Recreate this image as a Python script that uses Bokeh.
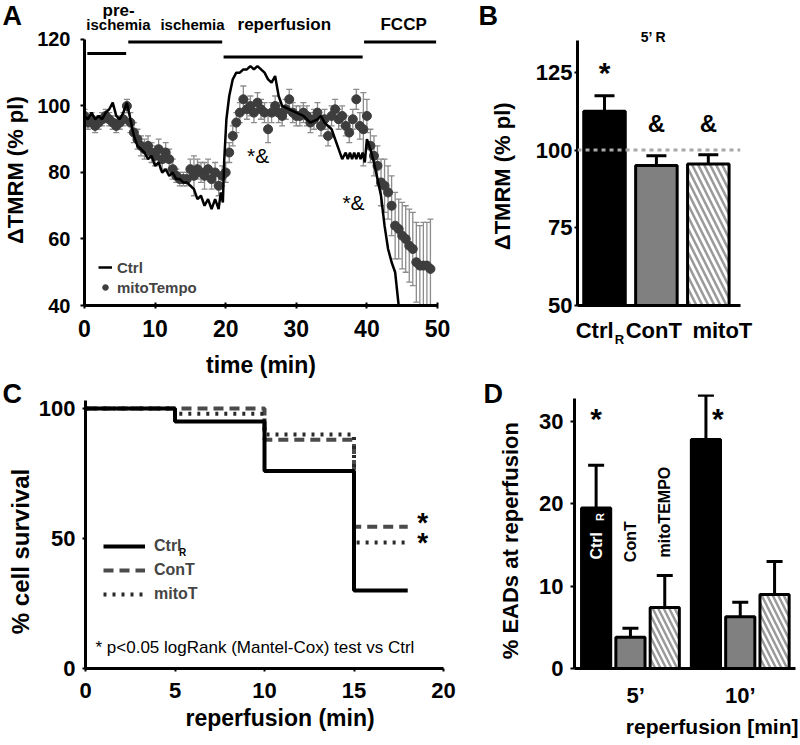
from math import pi
from bokeh.plotting import figure
from bokeh.models import (ColumnDataSource, Range1d, FixedTicker, Label, Legend, LegendItem,
                          Span, Whisker, TeeHead, LinearAxis, Title)
from bokeh.layouts import column, row
from bokeh.embed import file_html
from bokeh.resources import INLINE
from bokeh.core.properties import value

FONT = "Liberation Sans"
NB = "\u00a0"

# ---------------- Panel A data: TMRM time course ----------------
a_mito_time = [0, 0.5, 1, 1.5, 2, 2.5, 3, 3.5, 4, 4.5, 5, 5.5, 6,
               6.5, 7, 7.5, 8, 8.5, 9, 9.5, 10, 10.5, 11, 11.5, 12,
               12.5, 13, 13.5, 14, 14.5, 15, 15.5, 16, 16.5, 17, 17.5, 18, 18.5, 19, 19.5, 20,
               20.5, 21, 21.5, 22, 22.5, 23, 23.5, 24, 24.5, 25, 25.5, 26, 26.5, 27, 27.5, 28,
               28.5, 29, 29.5, 30,
               30.5, 31, 31.5, 32, 32.5, 33, 33.5, 34, 34.5, 35, 35.5, 36, 36.5, 37, 37.5, 38,
               38.5, 39, 39.5, 40,
               40.5, 41, 41.5, 42, 42.5, 43, 43.5, 44, 44.5, 45, 45.5, 46, 46.5, 47, 47.5, 48,
               48.5, 49]
a_mito_mean = [97, 95, 96, 94, 95, 96, 97, 96, 95, 94, 95, 96, 100,
               95, 92, 90, 88, 87, 88, 86, 85, 87, 84, 86, 84,
               81, 79, 78, 78, 78, 81, 79, 81, 80, 79, 81, 78, 80, 76, 79, 80,
               86, 91, 95, 98, 102, 99, 100, 98, 101, 99, 98, 93, 98, 100, 98, 97, 99, 102, 98, 97,
               97, 98, 97, 95, 96, 98, 94, 96, 91, 97, 99, 96, 97, 94, 92, 96, 102, 94, 93, 97,
               88, 85, 82, 77, 76, 74, 70, 64, 63, 61, 60, 58, 57, 53, 52, 52, 52, 51]
a_mito_sem = [2, 2, 2, 2, 2, 2, 2, 2, 2, 2, 2, 2, 2,
              3, 3, 3, 3, 3, 3, 3, 3, 3, 3, 3, 3,
              3, 2, 2, 2, 2, 3, 6, 3, 3, 4, 3, 3, 3, 3, 3, 3,
              3, 3, 3, 3, 4, 3, 3, 3, 3, 3, 3, 4, 3, 3, 3, 3, 3, 3, 3, 3,
              3, 3, 3, 3, 3, 3, 3, 3, 3, 3, 3, 3, 3, 3, 3, 3, 3, 4, 11, 5,
              5, 6, 6, 7, 8, 8, 9, 10, 9, 10, 10, 11, 11, 12, 12, 13, 13, 15]
a_ctrl_time = [0, 0.5, 1, 1.5, 2, 2.5, 3, 3.5, 4, 4.5, 5, 5.5, 6, 6.5, 7, 7.5, 8, 8.5, 9, 9.5,
               10, 10.5, 11, 11.5, 12, 12.5, 13, 13.5, 14, 14.5, 15, 15.5, 16, 16.5, 17, 17.5,
               18, 18.5, 19, 19.3, 19.6, 19.8, 20.1, 20.5, 21, 21.5, 22, 22.5, 23, 23.5, 24,
               24.5, 25, 25.5, 26, 26.5, 27, 27.5, 28, 29, 30, 31, 32, 33, 33.5, 34, 35, 35.5,
               36, 36.5, 37, 37.3, 37.6, 37.9, 38.2, 38.5, 38.8, 39.1, 39.4, 39.7, 40, 40.5,
               41, 41.5, 42, 42.5, 43, 43.5, 44, 44.5, 44.8]
a_ctrl_mean = [97, 96, 98, 96, 97, 96, 98, 99, 101, 97, 96, 98, 101, 96, 91, 88, 87, 86, 84, 85,
               82, 83, 80, 81, 79, 80, 78, 78, 77, 77, 76, 75, 72, 73, 70, 72,
               69, 72, 69, 74, 71, 84, 96, 103, 108, 110, 110, 111, 111, 112, 111,
               112, 111, 110, 108, 107, 109, 103, 100, 99, 98, 97, 95, 96, 97, 95, 93, 90,
               87, 84, 86, 84, 86, 84, 86, 84, 86, 84, 86, 83, 90, 87,
               83, 78, 73, 64, 57, 53, 50, 40, 36]
a_xticks = [0, 10, 20, 30, 40, 50]
a_yticks = [40, 60, 80, 100, 120]
a_phase_names = ["ischemia", "ischemia", "reperfusion", "FCCP"]
a_phase_start = [0.4, 6.2, 19.7, 39.6]
a_phase_end = [5.9, 19.5, 39.4, 49.8]
a_phase_bar_level = [115.8, 119.2, 114.7, 119.2]
a_phase_label_time = [4.8, 15.3, 28.3, 45.2]
a_phase_label_level = [124.5, 124.5, 124.5, 124.5]
a_phase_label_size = ["15px", "15px", "17px", "17px"]
a_sig_time = [24.6, 38.1]
a_sig_level = [85.0, 71.0]
a_sig_text = ["*&", "*&"]

# ---------------- Panel B data: TMRM at 5' reperfusion ----------------
b_groups = ["Ctrl", "ConT", "mitoT"]
b_pos = [1, 2, 3]
b_mean = [112.5, 95.0, 95.5]
b_sem = [5.0, 3.2, 3.0]
b_sig = ["*", "&", "&"]
b_sig_level = [125.0, 108.6, 108.6]
b_ref = 100
b_yticks = [50, 75, 100, 125]
b_label_pos = [0.81, 1.95, 3.27]
b_sub_pos = [1.29]

# ---------------- Panel C data: survival ----------------
c_time = [0, 5, 10, 15, 18]
c_ctrl = [100, 95, 76, 30, 30]
c_cont = [100, 100, 88, 54.5, 54.5]
c_mito = [100, 98, 90, 48.5, 48.5]
c_star_time = [18.83, 18.83]
c_star_level = [56.0, 48.5]
c_xticks = [0, 5, 10, 15, 20]
c_yticks = [0, 50, 100]

# ---------------- Panel D data: EADs ----------------
d_groups = ["5\u2019", "10\u2019"]
d_ctrl = [19.5, 27.8]
d_ctrl_err = [5.2, 5.4]
d_cont = [3.8, 6.3]
d_cont_err = [1.1, 1.75]
d_mito = [7.4, 9.0]
d_mito_err = [3.9, 4.0]
d_yticks = [0, 10, 20, 30]
d_group_pos = [0.0, 3.2]
d_label_pos = [0.15, 3.2]


# ---------------- helpers ----------------
def make_fig(w, h, xr, yr, l, r, t, b):
    p = figure(width=w, height=h, x_range=Range1d(*xr), y_range=Range1d(*yr),
               output_backend="svg", toolbar_location=None,
               min_border_left=l, min_border_right=r, min_border_top=t, min_border_bottom=b)
    p.outline_line_color = None
    p.xgrid.visible = False
    p.ygrid.visible = False
    return p


def add_title(p, text, size, offset, standoff, valign, place="above", align="left"):
    p.add_layout(Title(text=text, align=align, offset=offset, standoff=standoff,
                       vertical_align=valign, text_font=FONT, text_font_size=f"{size}px",
                       text_font_style="bold", text_color="black"), place)


def style_axis(ax, ticks, size, tick_in=0, tick_out=4, standoff=6, bounds=None):
    ax.ticker = FixedTicker(ticks=ticks)
    if bounds is not None:
        ax.bounds = bounds
    ax.axis_line_width = 3
    ax.axis_line_color = "black"
    ax.major_tick_line_width = 2
    ax.major_tick_in = tick_in
    ax.major_tick_out = tick_out
    ax.minor_tick_line_color = None
    ax.major_label_standoff = standoff
    ax.major_label_text_font = FONT
    ax.major_label_text_font_style = "bold"
    ax.major_label_text_font_size = f"{size}px"
    ax.major_label_text_color = "black"


def axis_title(ax, text, size, standoff):
    ax.axis_label = text
    ax.axis_label_text_font = FONT
    ax.axis_label_text_font_style = "bold"
    ax.axis_label_text_font_size = f"{size}px"
    ax.axis_label_text_color = "black"
    ax.axis_label_standoff = standoff


def lab(p, x, y, text, size, bold=True, align="center", baseline="middle", angle=0,
        color="black", xu="canvas", yu="canvas", x_offset=0):
    p.add_layout(Label(x=x, y=y, x_units=xu, y_units=yu, text=text, text_font=FONT,
                       text_font_size=f"{size}px",
                       text_font_style="bold" if bold else "normal",
                       text_align=align, text_baseline=baseline, angle=angle,
                       text_color=color, x_offset=x_offset))


def gtext(p, x, y, text, size, bold=True, angle=0, color="black", baseline="middle",
          x_offset=0):
    p.text(x=x, y=y, text=text, angle=angle, x_offset=x_offset, text_font=value(FONT),
           text_font_style="bold" if bold else "normal", text_font_size=size,
           text_color=color, text_align="center", text_baseline=baseline)


# ================= Panel A =================
pA = make_fig(468, 380, (0, 50), (40, 126.9), 84, 31, 16, 74)
add_title(pA, "A", 27, -82, -29, "bottom")
add_title(pA, "pre-", 17, 18, -16, "top")
style_axis(pA.xaxis[0], a_xticks, 23, tick_in=3, tick_out=3, standoff=11)
style_axis(pA.yaxis[0], a_yticks, 20, tick_out=4, standoff=10, bounds=(40, 120))
axis_title(pA.yaxis[0], "\u0394TMRM (% pl)" + NB * 3, 22, 6)
axis_title(pA.xaxis[0], "time (min)", 23, 12)

srcA = ColumnDataSource(dict(t=a_mito_time, m=a_mito_mean,
                             lo=[m - s for m, s in zip(a_mito_mean, a_mito_sem)],
                             hi=[m + s for m, s in zip(a_mito_mean, a_mito_sem)]))
pA.add_layout(Whisker(source=srcA, base="t", lower="lo", upper="hi",
                      line_color="#8c8c8c", line_width=1.3,
                      upper_head=TeeHead(size=6, line_color="#8c8c8c", line_width=1.3),
                      lower_head=TeeHead(size=6, line_color="#8c8c8c", line_width=1.3)))
rA_mito = pA.scatter("t", "m", source=srcA, size=9, marker="circle",
                     fill_color="#3d3d3d", line_color="#3d3d3d")
rA_ctrl = pA.line(a_ctrl_time, a_ctrl_mean, line_color="black", line_width=2.5)

pA.segment(x0=a_phase_start, x1=a_phase_end, y0=a_phase_bar_level, y1=a_phase_bar_level,
           line_color="black", line_width=3)
srcPh = ColumnDataSource(dict(x=a_phase_label_time, y=a_phase_label_level, t=a_phase_names,
                              fs=a_phase_label_size))
pA.text(x="x", y="y", text="t", source=srcPh, text_font=value(FONT), text_font_style="bold",
        text_font_size="fs", text_align="center", text_baseline="middle")
gtext(pA, a_sig_time, a_sig_level, a_sig_text, "21px", bold=False)

legA = Legend(items=[LegendItem(label="Ctrl", renderers=[rA_ctrl]),
                     LegendItem(label="mitoTempo", renderers=[rA_mito])],
              location=(14, 8), glyph_width=14, glyph_height=20, label_height=20,
              spacing=0, label_standoff=5, padding=0, margin=0,
              border_line_alpha=0, background_fill_alpha=0,
              label_text_font=FONT, label_text_font_style="bold",
              label_text_font_size="15px")
pA.add_layout(legA)

# ================= Panel B =================
pB = make_fig(332, 380, (0.48, 3.62), (50, 142.95), 109, 60, 16, 74)
add_title(pB, "B", 27, -99, -29, "bottom")
style_axis(pB.xaxis[0], b_label_pos, 22, tick_out=0, standoff=12)
pB.xaxis[0].major_tick_line_color = None
pB.xaxis[0].major_label_overrides = {b_label_pos[i]: b_groups[i] for i in range(3)}
style_axis(pB.yaxis[0], b_yticks, 22, tick_out=3, standoff=2, bounds=(50, 135.3))
axis_title(pB.yaxis[0], "\u0394TMRM (% pl)" + NB * 5, 22, 18)

axR = LinearAxis(ticker=FixedTicker(ticks=b_sub_pos), major_label_overrides={b_sub_pos[0]: "R"},
                 axis_line_color=None, major_tick_line_color=None, minor_tick_line_color=None,
                 major_label_standoff=-20, major_label_text_font=FONT,
                 major_label_text_font_style="bold", major_label_text_font_size="13px",
                 major_label_text_color="black")
pB.add_layout(axR, "below")

srcB = ColumnDataSource(dict(x=b_pos, top=b_mean,
                             up=[m + s for m, s in zip(b_mean, b_sem)],
                             fill=["black", "#808080", "white"],
                             hatch=[" ", " ", "\\"],
                             sig=b_sig, sigy=b_sig_level,
                             fs=["30px", "24px", "24px"]))
pB.add_layout(Whisker(source=srcB, base="x", lower="top", upper="up", line_color="black",
                      line_width=3, upper_head=TeeHead(size=20, line_color="black", line_width=3),
                      lower_head=None))
pB.vbar(x="x", top="top", bottom=50, width=0.8, source=srcB, fill_color="fill",
        line_color="black", line_width=3, hatch_pattern="hatch", hatch_color="#9a9a9a",
        hatch_weight=2.5, hatch_scale=12)
pB.text(x="x", y="sigy", text="sig", source=srcB, text_font=value(FONT),
        text_font_style="bold", text_font_size="fs", text_align="center",
        text_baseline="middle")
pB.add_layout(Span(location=b_ref, dimension="width", line_color="#a8a8a8",
                   line_width=3, line_dash="4 4"))
gtext(pB, [1.944], [136.2], ["5\u2019 R"], "14px")

# ================= Panel C =================
pC = make_fig(480, 365, (0, 21.06), (0, 105.4), 85, 18, 14, 77)
add_title(pC, "C", 27, -83, -29, "bottom")
style_axis(pC.xaxis[0], c_xticks, 22, tick_out=3, standoff=11, bounds=(0, 20))
style_axis(pC.yaxis[0], c_yticks, 22, tick_out=3, standoff=7, bounds=(0, 103))
axis_title(pC.yaxis[0], "% cell survival" + NB * 6, 24, 2)
add_title(pC, "reperfusion (min)", 23, 100, 5, "bottom", place="below")

rC_cont = pC.step(c_time, c_cont, mode="after", line_color="#4a4a4a", line_width=4,
                  line_dash="10 6")
rC_mito = pC.step(c_time, c_mito, mode="after", line_color="#2a2a2a", line_width=4,
                  line_dash="3 6")
rC_ctrl = pC.step(c_time, c_ctrl, mode="after", line_color="black", line_width=4)
gtext(pC, c_star_time, c_star_level, ["*", "*"], "28px")

legC = Legend(items=[LegendItem(label="Ctrl", renderers=[rC_ctrl]),
                     LegendItem(label="ConT", renderers=[rC_cont]),
                     LegendItem(label="mitoT", renderers=[rC_mito])],
              location=(18, 64), glyph_width=42, glyph_height=20, label_height=20,
              spacing=4, label_standoff=9, padding=0, margin=0,
              border_line_alpha=0, background_fill_alpha=0,
              label_text_font=FONT, label_text_font_style="bold",
              label_text_font_size="16px")
pC.add_layout(legC)
lab(pC, 182, 172, "R", 10)
lab(pC, 95, 267, "* p<0.05 logRank (Mantel-Cox) test vs Ctrl", 17, bold=False, align="left")

# ================= Panel D =================
pD = make_fig(320, 365, (-1.63, 4.81), (0, 33.28), 94, 5, 14, 77)
add_title(pD, "D", 27, -91, -29, "bottom")
style_axis(pD.xaxis[0], d_label_pos, 22, tick_out=0, standoff=14)
pD.xaxis[0].major_tick_line_color = None
pD.xaxis[0].major_label_overrides = {d_label_pos[i]: d_groups[i] for i in range(2)}
style_axis(pD.yaxis[0], d_yticks, 22, tick_out=4, standoff=7, bounds=(0, 32.8))
axis_title(pD.yaxis[0], "% EADs at reperfusion" + NB * 3, 22, 13)
add_title(pD, "reperfusion [min]", 21, -3, 5, "bottom", place="below", align="right")

d_offsets = [-1, 0, 1]
d_fills = ["black", "#808080", "white"]
d_hatches = [" ", " ", "\\"]
series = [(d_ctrl, d_ctrl_err), (d_cont, d_cont_err), (d_mito, d_mito_err)]
dx, dtop, dup, dfill, dhatch = [], [], [], [], []
for gi, gp in enumerate(d_group_pos):
    for si, (vals, errs) in enumerate(series):
        dx.append(gp + d_offsets[si])
        dtop.append(vals[gi])
        dup.append(vals[gi] + errs[gi])
        dfill.append(d_fills[si])
        dhatch.append(d_hatches[si])
srcD = ColumnDataSource(dict(x=dx, top=dtop, up=dup, fill=dfill, hatch=dhatch))
pD.add_layout(Whisker(source=srcD, base="x", lower="top", upper="up", line_color="black",
                      line_width=3, upper_head=TeeHead(size=16, line_color="black", line_width=3),
                      lower_head=None))
pD.vbar(x="x", top="top", bottom=0, width=0.85, source=srcD, fill_color="fill",
        line_color="black", line_width=3, hatch_pattern="hatch", hatch_color="#9a9a9a",
        hatch_weight=2.5, hatch_scale=11)

star_offsets = [0, 12]
for gi, gp in enumerate(d_group_pos):
    lab(pD, gp + d_offsets[0], 30.4, "*", 30, xu="data", yu="data", x_offset=star_offsets[gi])

g0 = d_group_pos[0]
gtext(pD, [g0 + d_offsets[0]], [14.9], ["Ctrl"], "16px", angle=pi / 2, color="white")
gtext(pD, [g0 + d_offsets[0]], [18.4], ["R"], "11px", angle=pi / 2, color="white", x_offset=4)
gtext(pD, [g0 + d_offsets[1]], [15.4], ["ConT"], "16px", angle=pi / 2)
gtext(pD, [g0 + d_offsets[2]], [19.0], ["mitoTEMPO"], "16px", angle=pi / 2)

layout = column(row(pA, pB), row(pC, pD))
open("out.html", "w").write(file_html(layout, INLINE))
